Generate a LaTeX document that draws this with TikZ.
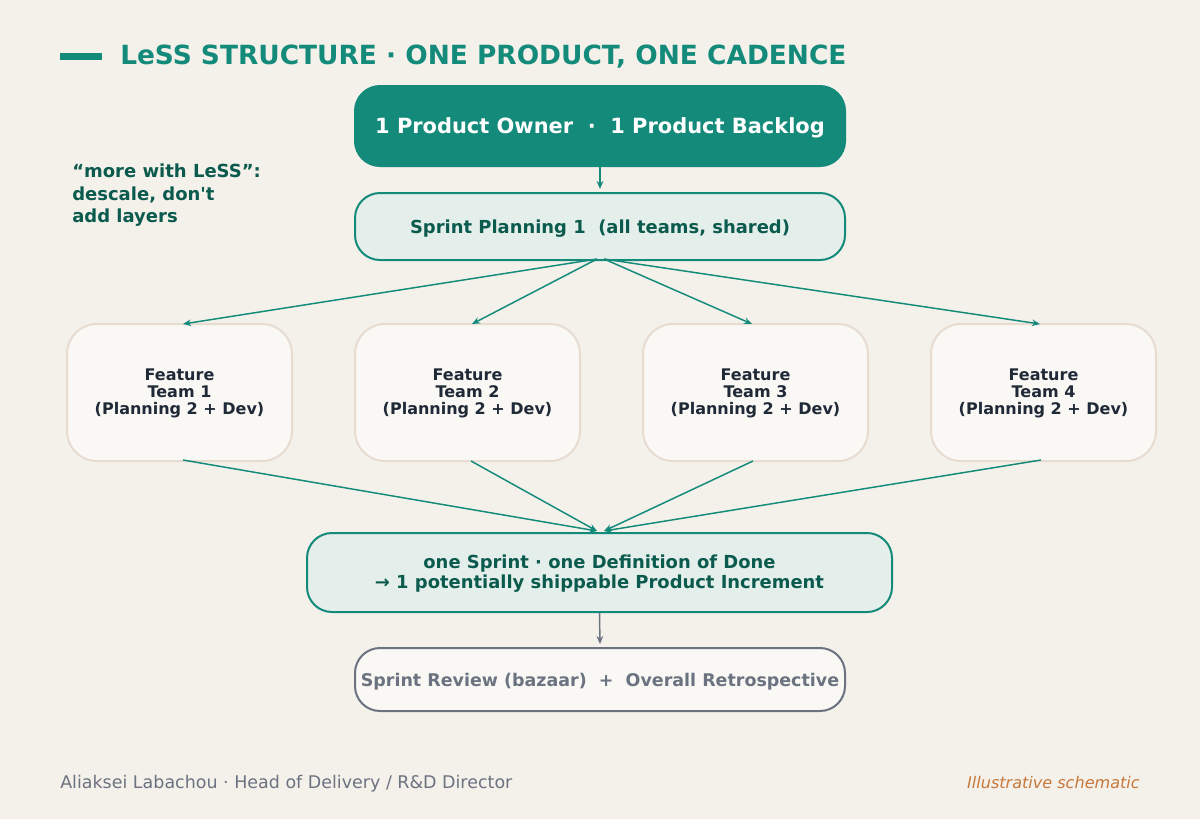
\documentclass[tikz,border=0pt]{standalone}
\usepackage{fontspec}
\setmainfont{DejaVu Sans}
\usetikzlibrary{arrows.meta,calc}
\definecolor{bg}{HTML}{F4F1EB}
\definecolor{teal}{HTML}{138A7A}
\definecolor{dteal}{HTML}{0B5A4E}
\definecolor{lteal}{HTML}{E4EEEA}
\definecolor{cream}{HTML}{FAF8F4}
\definecolor{creamline}{HTML}{E6DDD0}
\definecolor{ink}{HTML}{1F2937}
\definecolor{grayc}{HTML}{6B7280}
\definecolor{orangec}{HTML}{C8773A}
\tikzset{
  base/.style={rounded corners=18.75pt, inner sep=0pt, line width=1.5pt},
  pobox/.style={base, fill=teal, draw=teal, minimum width=367.5pt, minimum height=60pt},
  tealbox/.style={base, fill=lteal, draw=teal},
  teambox/.style={base, rounded corners=22.5pt, fill=cream, draw=creamline, minimum width=168.75pt, minimum height=102.75pt},
  revbox/.style={base, fill=cream, draw=grayc, minimum width=367.5pt, minimum height=47.25pt},
  txt/.style={anchor=base, inner sep=0pt, align=center},
  potxt/.style={txt, text=white, font=\bfseries\fontsize{15.7}{18}\selectfont},
  tealtxt/.style={txt, text=dteal, font=\bfseries\fontsize{13.45}{15}\selectfont},
  teamtxt/.style={txt, text=ink, font=\bfseries\fontsize{12}{12.75}\selectfont},
  revtxt/.style={txt, text=grayc, font=\bfseries\fontsize{13.1}{15}\selectfont},
  arr/.style={draw=teal, line width=1.1pt, -{Stealth[length=6pt,width=5pt]}},
  garr/.style={draw=grayc, line width=1.1pt, -{Stealth[length=6pt,width=5pt]}},
}
\begin{document}
\begin{tikzpicture}[x=0.75pt,y=-0.75pt]
\useasboundingbox (0,0) rectangle (1200,819);
\fill[bg] (0,0) rectangle (1200,819);
% title
\fill[teal] (60,53) rectangle (102,60);
\node[anchor=base west, inner sep=0pt, text=teal, font=\bfseries\fontsize{19.8}{22}\selectfont] (title) at (120,64) {LeSS STRUCTURE · ONE PRODUCT, ONE CADENCE};
% side note (anchor = baseline of last line)
\node[anchor=base west, inner sep=0pt, align=left, text=dteal, font=\bfseries\fontsize{13.5}{16.7}\selectfont] (note) at (72,222.3) {“more with LeSS”:\\descale, don\textquotesingle t\\add layers};
% boxes
\node[pobox] (po) at (600,126) {};
\node[potxt] (pot) at (600,133.3) {1 Product Owner \ · \ 1 Product Backlog};
\node[tealbox, minimum width=367.5pt, minimum height=50.25pt] (sp) at (600,226.5) {};
\node[tealtxt] (spt) at (600,233.3) {Sprint Planning 1 \ (all teams, shared)};
\foreach \i/\x in {1/179.5,2/467.5,3/755.5,4/1043.5}{
  \node[teambox] (t\i) at (\x,392.5) {};
  \node[teamtxt] (t\i t) at (\x,414.7) {Feature\\Team \i\\(Planning 2 + Dev)};
}
\node[tealbox, minimum width=438.75pt, minimum height=59.25pt] (done) at (599.5,572.5) {};
\node[tealtxt] (donet) at (599.5,588.7) {one Sprint · one Definition of Done\\→ 1 potentially shippable Product Increment};
\node[revbox] (rev) at (600,679.5) {};
\node[revtxt] (revt) at (600,686) {Sprint Review (bazaar) \ + \ Overall Retrospective};
% connectors
\draw[arr] (po.south) -- ($(sp.north)+(0,-3)$);
\draw[arr] ($(sp.south)+(-3,-2)$) -- ($(t1.north)+(3.5,1)$);
\draw[arr] ($(sp.south)+(-3,-2)$) -- ($(t2.north)+(4.5,1)$);
\draw[arr] ($(sp.south)+(4,-2)$) -- ($(t3.north)+(-3.5,1)$);
\draw[arr] ($(sp.south)+(4,-2)$) -- ($(t4.north)+(-3.5,1)$);
\draw[arr] ($(t1.south)+(3.5,-2)$) -- ($(done.north)+(-2.5,-1)$);
\draw[arr] ($(t2.south)+(3.5,-1)$) -- ($(done.north)+(-2.5,-1)$);
\draw[arr] ($(t3.south)+(-2.5,-1)$) -- ($(done.north)+(4.5,-1)$);
\draw[arr] ($(t4.south)+(-2.5,-2)$) -- ($(done.north)+(4.5,-1)$);
\draw[garr] (done.south) -- ($(rev.north)+(0,-3)$);
% footer
\node[anchor=base west, inner sep=0pt, text=grayc, font=\fontsize{13.1}{15}\selectfont] (foot) at (60,788.3) {Aliaksei Labachou · Head of Delivery / R\&D Director};
\node[anchor=base east, inner sep=0pt, text=orangec, font=\itshape\fontsize{12.05}{14}\selectfont] (ill) at (1140,788.3) {Illustrative schematic};
\end{tikzpicture}
\end{document}
